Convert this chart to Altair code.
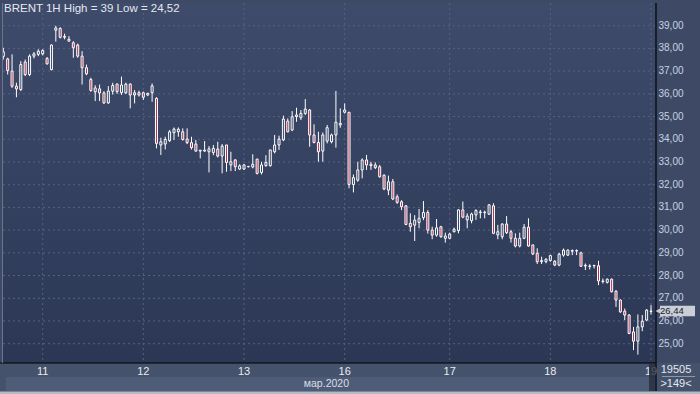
import altair as alt
import pandas as pd
import numpy as np

# ---------------- data ----------------
opens = [37.65, 37.54, 37.00, 36.34, 36.19, 37.40, 36.85, 37.66, 37.74, 37.76,
         37.56, 37.07, 38.80, 38.88, 38.53, 38.40, 38.25, 38.15, 37.66, 37.15,
         36.63, 36.09, 36.22, 36.04, 35.60, 36.12, 36.43, 36.05, 36.05, 36.43,
         36.05, 35.95, 36.05, 35.95, 36.05, 35.80, 33.75, 33.79, 33.94, 34.29,
         34.33, 34.33, 34.01, 33.85, 33.79, 33.48, 33.48, 33.45, 33.42, 33.57,
         33.26, 33.75, 32.87, 33.09, 32.69, 32.69, 32.79, 32.78, 33.13, 32.54,
         32.84, 32.84, 33.45, 33.75, 33.97, 34.80, 34.41, 35.00, 34.95, 35.14,
         35.29, 34.19, 33.86, 33.48, 33.92, 33.89, 34.19, 34.63, 35.19, 35.19,
         32.01, 32.20, 32.65, 33.09, 32.90, 32.87, 32.79, 32.42, 31.76, 32.13,
         31.47, 31.25, 31.07, 30.30, 30.22, 30.34, 30.55, 30.78, 30.00, 29.78,
         30.15, 29.64, 29.64, 29.93, 29.98, 30.89, 30.45, 30.42, 30.67, 30.77,
         30.77, 30.70, 31.07, 29.79, 29.71, 30.27, 29.93, 29.64, 29.30, 29.64,
         30.13, 29.35, 28.98, 28.66, 28.61, 28.66, 28.63, 28.46, 28.90, 28.90,
         29.07, 29.08, 29.00, 28.42, 28.40, 28.43, 28.43, 27.74, 27.70, 27.84,
         27.31, 26.92, 26.43, 26.26, 25.52, 25.11, 25.74, 26.04, 26.42]
highs = [38.03, 37.59, 37.74, 36.49, 37.44, 37.51, 37.74, 37.84, 37.96, 37.96,
         37.62, 38.18, 39.00, 38.93, 38.65, 38.54, 38.32, 38.21, 37.88, 37.29,
         36.71, 36.38, 36.41, 36.12, 36.34, 36.49, 36.46, 36.76, 36.49, 36.46,
         36.17, 36.14, 36.10, 36.05, 36.46, 35.85, 34.07, 34.11, 34.41, 34.52,
         34.52, 34.48, 34.48, 34.11, 33.97, 33.53, 33.92, 33.70, 33.75, 33.89,
         33.79, 33.75, 33.45, 33.13, 32.90, 32.90, 32.83, 33.34, 33.13, 33.01,
         33.30, 33.53, 34.19, 34.16, 35.04, 34.92, 35.24, 35.39, 35.29, 35.77,
         35.33, 34.66, 34.33, 34.30, 34.63, 34.25, 36.13, 35.36, 35.58, 35.19,
         32.45, 33.01, 33.16, 33.31, 33.01, 32.98, 32.87, 32.45, 32.40, 32.25,
         31.57, 31.32, 31.10, 30.74, 30.66, 30.93, 31.28, 30.88, 30.15, 30.49,
         30.19, 29.89, 29.89, 30.11, 30.92, 31.26, 30.74, 30.77, 30.92, 30.89,
         30.86, 31.15, 31.18, 30.23, 30.30, 30.62, 30.01, 29.86, 29.89, 30.27,
         30.52, 29.35, 29.20, 28.83, 28.76, 28.91, 28.68, 29.00, 29.19, 29.15,
         29.15, 29.15, 29.05, 28.53, 28.50, 28.46, 28.65, 27.87, 27.87, 27.87,
         27.36, 26.95, 26.55, 26.30, 25.74, 26.29, 26.26, 26.52, 26.70]
lows = [37.51, 36.85, 36.26, 35.85, 36.12, 36.78, 36.78, 37.56, 37.66, 37.69,
        37.29, 37.03, 38.30, 38.44, 38.40, 38.32, 37.59, 37.59, 36.41, 36.82,
        36.09, 35.68, 35.68, 35.56, 35.56, 35.97, 36.00, 35.95, 35.99, 35.36,
        35.58, 35.88, 35.73, 35.90, 35.65, 33.60, 33.31, 33.55, 33.88, 33.97,
        34.11, 33.94, 33.79, 33.55, 33.45, 33.16, 33.45, 32.54, 33.30, 33.20,
        32.50, 32.57, 32.60, 32.60, 32.65, 32.65, 32.76, 32.72, 32.45, 32.45,
        32.79, 32.79, 33.38, 33.53, 33.92, 34.30, 34.36, 34.77, 34.85, 35.07,
        33.67, 33.82, 33.01, 33.01, 33.82, 33.82, 33.63, 34.51, 35.14, 31.84,
        31.66, 32.13, 32.28, 32.65, 32.65, 32.69, 32.31, 31.76, 31.54, 31.32,
        31.16, 30.88, 30.22, 29.93, 29.52, 30.08, 30.44, 29.85, 29.60, 29.71,
        29.66, 29.45, 29.60, 29.90, 29.86, 30.52, 30.08, 30.30, 30.45, 30.52,
        30.52, 30.67, 29.82, 29.60, 29.60, 29.83, 29.45, 29.24, 29.24, 29.60,
        29.27, 28.90, 28.51, 28.51, 28.54, 28.61, 28.41, 28.41, 28.83, 28.86,
        28.90, 28.90, 28.38, 28.24, 28.27, 28.31, 27.58, 27.65, 27.65, 27.25,
        26.62, 26.36, 26.04, 25.42, 24.72, 24.52, 25.55, 25.99, 26.29]
closes = [37.85, 37.03, 36.34, 36.22, 37.29, 36.85, 37.66, 37.76, 37.88, 37.91,
          37.32, 38.15, 38.90, 38.49, 38.49, 38.32, 38.03, 37.66, 37.15, 36.88,
          36.15, 36.26, 36.04, 35.60, 36.12, 36.37, 36.10, 36.39, 36.43, 35.95,
          35.95, 36.05, 35.85, 36.02, 36.35, 33.82, 33.89, 33.99, 34.33, 34.45,
          34.44, 33.99, 33.85, 33.63, 33.48, 33.52, 33.52, 33.58, 33.60, 33.26,
          33.70, 32.98, 33.01, 32.79, 32.83, 32.87, 32.80, 32.90, 32.50, 32.87,
          32.98, 33.53, 33.75, 34.01, 34.89, 34.33, 34.99, 35.07, 35.14, 35.33,
          34.19, 33.86, 33.45, 34.19, 34.51, 34.19, 34.75, 34.70, 35.29, 32.01,
          32.31, 32.65, 33.09, 32.87, 32.84, 32.75, 32.35, 31.81, 32.13, 31.37,
          31.22, 31.03, 30.25, 30.15, 30.44, 30.52, 30.78, 30.00, 29.78, 30.10,
          29.71, 29.74, 29.83, 30.04, 30.89, 30.57, 30.62, 30.71, 30.86, 30.80,
          30.79, 31.11, 29.86, 29.93, 30.27, 29.89, 29.64, 29.30, 29.64, 30.13,
          29.30, 28.95, 28.61, 28.61, 28.72, 28.88, 28.46, 28.94, 29.12, 29.12,
          29.10, 29.10, 28.41, 28.45, 28.42, 28.45, 27.76, 27.76, 27.84, 27.29,
          26.92, 26.40, 26.26, 25.45, 25.11, 25.74, 25.99, 26.48, 26.44]

day_labels = ["11", "12", "13", "16", "17", "18", "19"]
day_starts = [9, 32, 55, 78, 102, 125, 148]
price_ticks = list(range(25, 40))
title_text = "BRENT 1H High = 39 Low = 24,52"
month_text = "мар.2020"
volume_text = "19505"
bars_text = ">149<"
last_price = 26.44

# ---------------- frames ----------------
n = len(opens)
df = pd.DataFrame({"i": np.arange(n), "o": opens, "h": highs, "l": lows, "c": closes})
df["top"] = df[["o", "c"]].max(axis=1)
df["bot"] = df[["o", "c"]].min(axis=1)
df["dir"] = np.where(df["c"] >= df["o"], "up", "down")

W, H = 652, 360
FONT = "Liberation Sans Narrow, Liberation Sans, Arial, sans-serif"
GRID = "#56637f"
TXT = "#e4e8f0"

xs = alt.Scale(domain=[-0.07, 148.91], nice=False, zero=False, padding=0)
ys = alt.Scale(domain=[24.15, 40.0], nice=False, zero=False, padding=0)

one = pd.DataFrame({"k": [0]})

bg = alt.Chart(one).mark_rect(
    color=alt.LinearGradient(
        gradient="linear", x1=0, x2=0, y1=0, y2=1,
        stops=[alt.GradientStop(color="#3e4b6a", offset=0),
               alt.GradientStop(color="#2b3755", offset=1)]),
).encode(x=alt.value(0), x2=alt.value(W), y=alt.value(0), y2=alt.value(H))

ticks_df = pd.DataFrame({"p": price_ticks})
hgrid = alt.Chart(ticks_df).mark_rule(
    color=GRID, strokeDash=[2, 3], strokeWidth=1
).encode(y=alt.Y("p:Q", scale=ys, axis=None), x=alt.value(0), x2=alt.value(W))

ylabels = alt.Chart(ticks_df).transform_calculate(
    t="replace(format(datum.p, '.2f'), '.', ',')"
).mark_text(font=FONT, fontSize=10, color="#c9d1e2", align="left", baseline="middle").encode(
    y=alt.Y("p:Q", scale=ys, axis=None), x=alt.value(655.5), text="t:N")

vgrid = alt.Chart(pd.DataFrame({"i": day_starts})).mark_rule(
    color=GRID, strokeDash=[2, 3], strokeWidth=1
).encode(x=alt.X("i:Q", scale=xs, axis=None), y=alt.value(0), y2=alt.value(H))

base = alt.Chart(df)
wick_hi = base.mark_rule(color="#ffffff", strokeWidth=1, clip=True).encode(
    x=alt.X("i:Q", scale=xs, axis=None),
    y=alt.Y("h:Q", scale=ys, axis=None), y2="top:Q")
wick_lo = base.mark_rule(color="#ffffff", strokeWidth=1, clip=True).encode(
    x=alt.X("i:Q", scale=xs, axis=None),
    y=alt.Y("bot:Q", scale=ys, axis=None), y2="l:Q")
bodies = base.mark_bar(size=2, stroke="#ffffff", strokeWidth=1, clip=True).encode(
    x=alt.X("i:Q", scale=xs, axis=None),
    y=alt.Y("top:Q", scale=ys, axis=None), y2="bot:Q",
    fill=alt.Fill("dir:N", scale=alt.Scale(domain=["up", "down"],
                                           range=["transparent", "#ad3150"]), legend=None),
)

# bottom bands and frame lines
band1 = alt.Chart(one).mark_rect(color="#45526c").encode(
    x=alt.value(-3), x2=alt.value(697), y=alt.value(H), y2=alt.value(H + 31))
band2 = alt.Chart(one).mark_rect(color="#4f5c77").encode(
    x=alt.value(3), x2=alt.value(652), y=alt.value(H + 14), y2=alt.value(H + 28))
border = alt.Chart(one).mark_rect(color="#b3b9c5").encode(
    x=alt.value(-3), x2=alt.value(697), y=alt.value(H + 28.5), y2=alt.value(H + 31))
bottom_line = alt.Chart(one).mark_rule(color="#000000", strokeWidth=1.2).encode(
    x=alt.value(-3), x2=alt.value(653), y=alt.value(H))
right_line = alt.Chart(one).mark_rule(color="#000000", strokeWidth=1.2).encode(
    x=alt.value(653), y=alt.value(0), y2=alt.value(H + 28))
left_line = alt.Chart(one).mark_rule(color="#6a7690", strokeWidth=1).encode(
    x=alt.value(-0.5), y=alt.value(0), y2=alt.value(H))
sep_line = alt.Chart(one).mark_rule(color="#8e97aa", strokeWidth=1).encode(
    x=alt.value(659), x2=alt.value(692), y=alt.value(H + 13.5))

day_text = alt.Chart(pd.DataFrame({"i": day_starts, "t": day_labels})).mark_text(
    font=FONT, fontSize=11, color="#e8ebf2", align="center", baseline="middle"
).encode(x=alt.X("i:Q", scale=xs, axis=None), y=alt.value(H + 9), text="t:N")

thumb = alt.Chart(one).mark_rect(color="#262d3d", opacity=0.8).encode(
    x=alt.value(646), x2=alt.value(652), y=alt.value(H + 1), y2=alt.value(H + 28))

month = alt.Chart(pd.DataFrame({"t": [month_text]})).mark_text(
    font=FONT, fontSize=10.5, color="#d9deea", align="right", baseline="middle"
).encode(x=alt.value(346), y=alt.value(H + 20.5), text="t:N")

vol = alt.Chart(pd.DataFrame({"t": [volume_text]})).mark_text(
    font=FONT, fontSize=11, color=TXT, align="center", baseline="middle"
).encode(x=alt.value(673), y=alt.value(H + 7), text="t:N")
bars_lbl = alt.Chart(pd.DataFrame({"t": [bars_text]})).mark_text(
    font=FONT, fontSize=11, color=TXT, align="center", baseline="middle"
).encode(x=alt.value(673), y=alt.value(H + 20.5), text="t:N")

title = alt.Chart(pd.DataFrame({"t": [title_text]})).mark_text(
    font=FONT, fontSize=11.5, color=TXT, align="left", baseline="middle"
).encode(x=alt.value(1), y=alt.value(5.5), text="t:N")

lastdf = pd.DataFrame({"last": [last_price]})
tag_box = alt.Chart(lastdf).transform_calculate(
    lo="datum.last - 0.23", hi="datum.last + 0.23"
).mark_rect(color="#c9ced7").encode(
    x=alt.value(657), x2=alt.value(692),
    y=alt.Y("lo:Q", scale=ys, axis=None), y2="hi:Q")
tag_arrow = alt.Chart(lastdf).mark_point(
    shape="triangle-left", filled=True, color="#c9ced7", size=45, opacity=1
).encode(x=alt.value(655.5), y=alt.Y("last:Q", scale=ys, axis=None))
tag_text = alt.Chart(lastdf).transform_calculate(
    t="replace(format(datum.last, '.2f'), '.', ',')"
).mark_text(font=FONT, fontSize=9.5, color="#1c2030", align="left", baseline="middle").encode(
    x=alt.value(657), y=alt.Y("last:Q", scale=ys, axis=None), text="t:N")

chart = alt.layer(
    bg, hgrid, vgrid, wick_hi, wick_lo, bodies,
    band1, band2, border, bottom_line, left_line, sep_line,
    day_text, thumb, right_line, month, vol, bars_lbl, title, ylabels,
    tag_box, tag_arrow, tag_text,
).properties(
    width=W, height=H,
    padding={"left": 3, "top": 3, "right": 45, "bottom": 31},
    autosize=alt.AutoSizeParams(type="none"),
    background="#3e4a65",
).configure_view(stroke=None)

chart.save("out.html", embed_options={"renderer": "svg", "actions": False})
